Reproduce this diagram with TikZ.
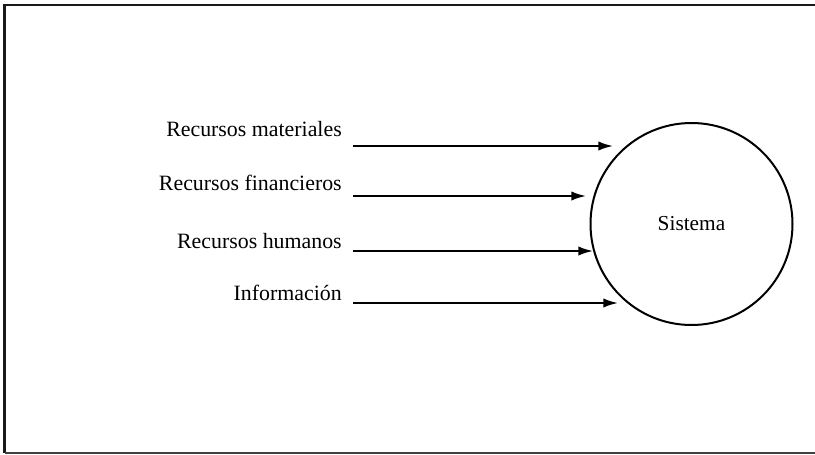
\documentclass[tikz,border=0pt]{standalone}
\usepackage{fontspec}
\setmainfont{Liberation Serif}
\usetikzlibrary{arrows.meta}
\begin{document}
\begin{tikzpicture}[x=0.75pt,y=-0.75pt,
  frameline/.style={line width=1.6pt,draw=black!90},
  label/.style={anchor=base east,inner sep=0pt,font=\fontsize{16.4}{18}\selectfont},
  flow/.style={line width=1.4pt,-{Latex[length=11pt,width=7pt]}},
  sysbox/.style={circle,draw,line width=1.5pt,minimum size=151.5pt,inner sep=0pt,
    font=\fontsize{16}{18}\selectfont}]
  \useasboundingbox (0,0) rectangle (815,454);
  % frame: left, top and bottom rules
  \draw[frameline] (815,5) -- (4.5,5) -- (4.5,453);
  \draw[line width=1.4pt,draw=black!75] (4.5,453) -- (815,453);
  % the system
  \node[sysbox] (sys) at (691.5,224) {Sistema};
  % inputs
  \node[label] (l1) at (342,136) {Recursos materiales};
  \node[label] (l2) at (342,190) {Recursos financieros};
  \node[label] (l3) at (342,248) {Recursos humanos};
  \node[label] (l4) at (342,300) {Información};
  \coordinate (s1) at (353,146); \coordinate (e1) at (613,146);
  \coordinate (s2) at (353,196); \coordinate (e2) at (586,196);
  \coordinate (s3) at (353,251); \coordinate (e3) at (593,251);
  \coordinate (s4) at (353,303); \coordinate (e4) at (618,303);
  \draw[flow] (s1) -- (e1);
  \draw[flow] (s2) -- (e2);
  \draw[flow] (s3) -- (e3);
  \draw[flow] (s4) -- (e4);
\end{tikzpicture}
\end{document}
